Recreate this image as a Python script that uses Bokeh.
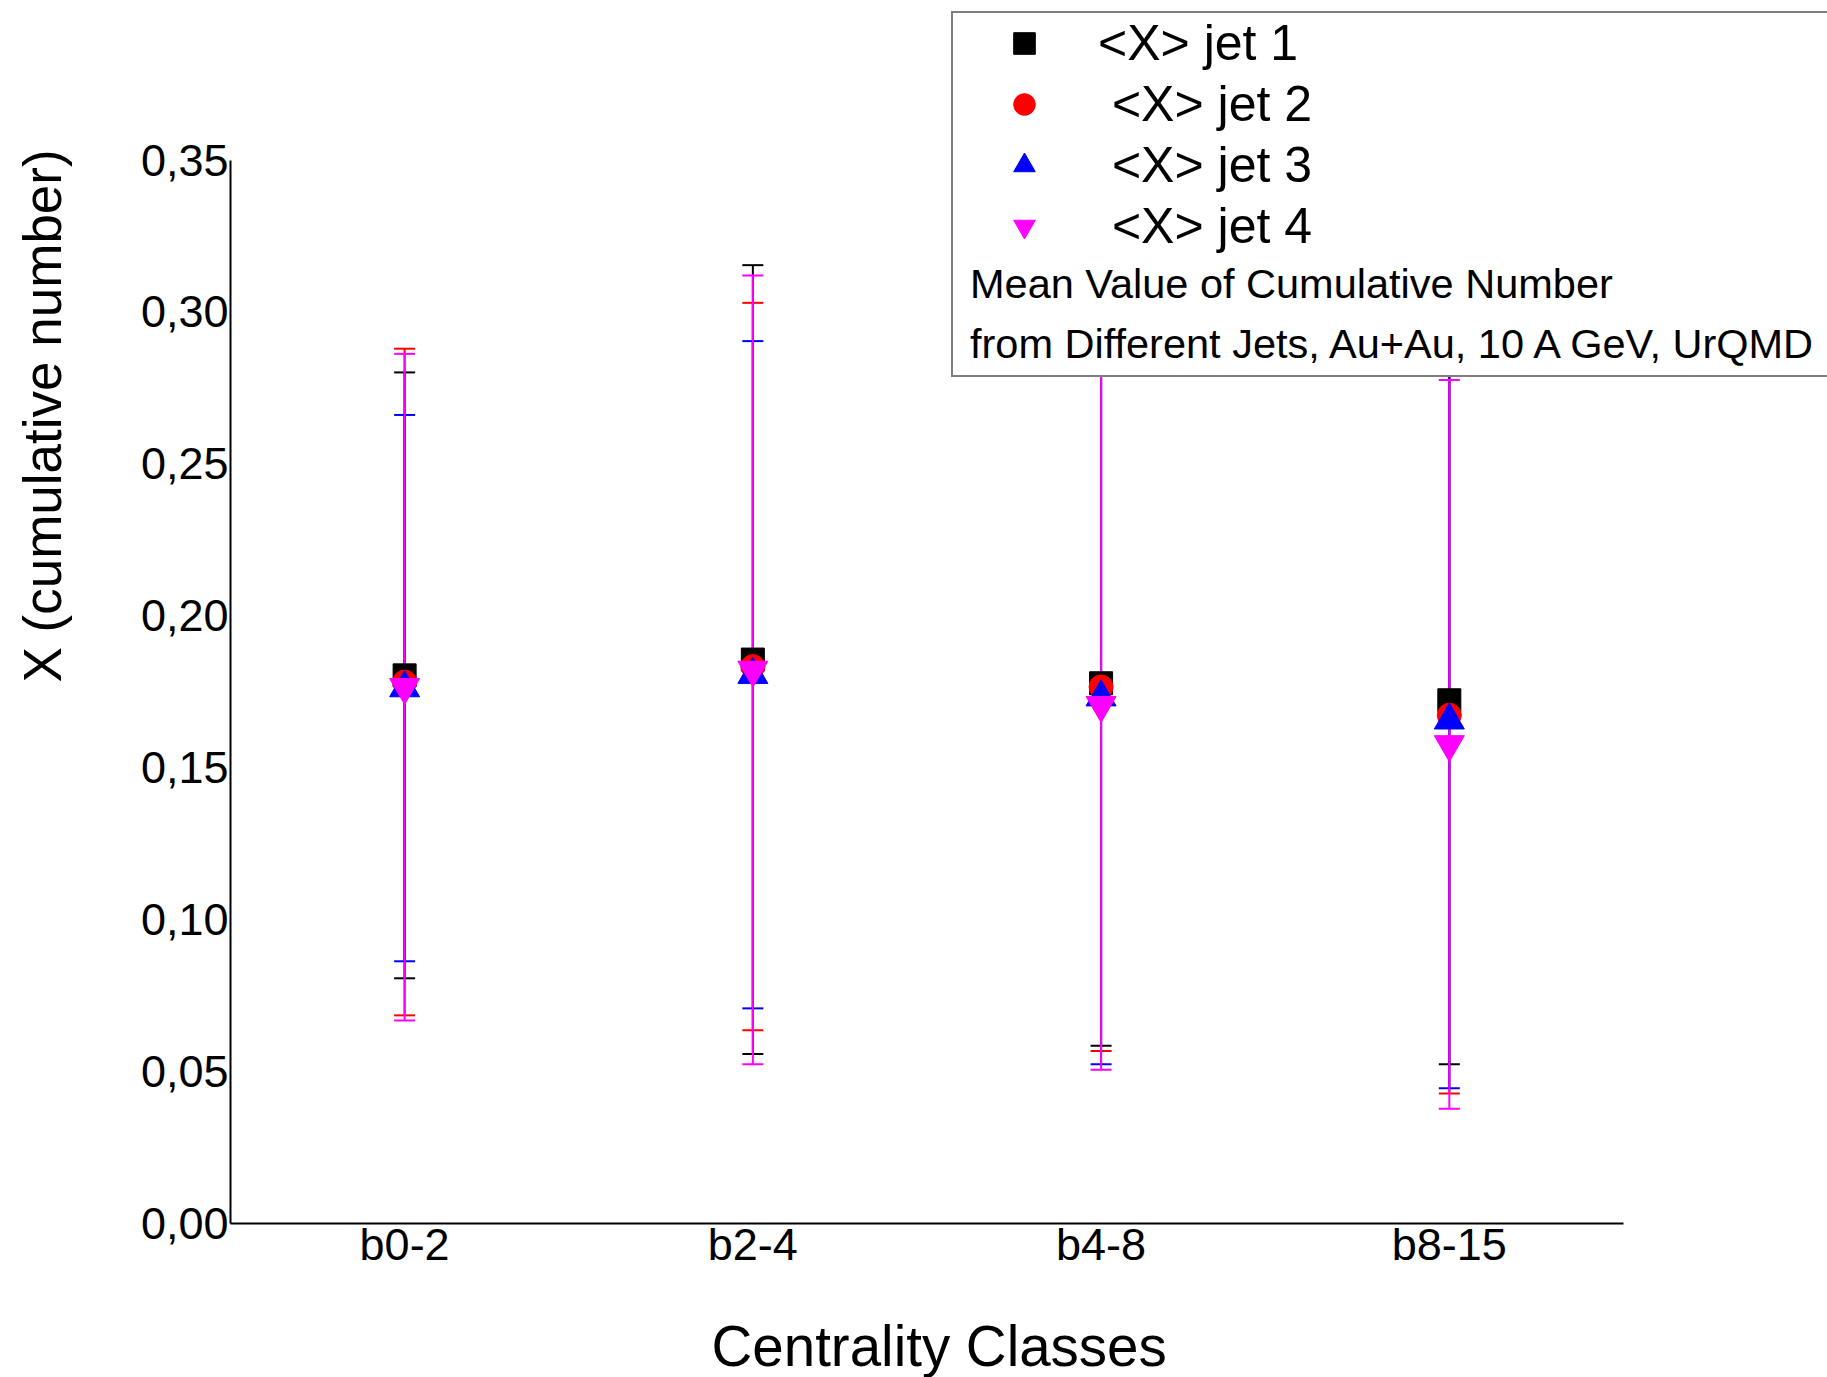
from bokeh.plotting import figure
from bokeh.models import (ColumnDataSource, Whisker, TeeHead, Legend, LegendItem,
                          FixedTicker, Range1d, Title)
from bokeh.embed import file_html
from bokeh.resources import INLINE

# ---- data -------------------------------------------------------------
categories = ["b0-2", "b2-4", "b4-8", "b8-15"]

jet1 = [0.1804, 0.1856, 0.1778, 0.1722]
jet1_err = [0.0997, 0.1298, 0.1193, 0.1198]
jet2 = [0.1782, 0.1833, 0.1766, 0.1673]
jet2_err = [0.1097, 0.1197, 0.1198, 0.1245]
jet3 = [0.1762, 0.1806, 0.1732, 0.1656]
jet3_err = [0.0899, 0.1098, 0.1208, 0.1211]
jet4 = [0.1765, 0.1822, 0.1706, 0.1577]
jet4_err = [0.1097, 0.1298, 0.1200, 0.1199]

y_ticks = [0.00, 0.05, 0.10, 0.15, 0.20, 0.25, 0.30, 0.35]
y_tick_labels = ["0,00", "0,05", "0,10", "0,15", "0,20", "0,25", "0,30", "0,35"]

series_labels = ["<X> jet 1", "\u00a0<X> jet 2", "\u00a0<X> jet 3", "\u00a0<X> jet 4"]
note_lines = ["Mean Value of Cumulative Number",
              "from Different Jets, Au+Au, 10 A GeV, UrQMD"]

x_title = "Centrality Classes"
y_title = "X (cumulative number)"

FONT = "Liberation Sans"

# ---- figure -----------------------------------------------------------
W, H = 1827, 1377
p = figure(width=W, height=H, output_backend="svg", toolbar_location=None,
           x_range=Range1d(0, 4.586), y_range=Range1d(0, 0.4025),
           min_border_left=230, min_border_right=0, min_border_top=0,
           min_border_bottom=154)
p.outline_line_color = None
p.grid.visible = False
p.background_fill_color = "white"
p.border_fill_color = "white"

xs = [i + 0.5 for i in range(len(categories))]

series = [
    (jet1, jet1_err, "square", 23, "#000000"),
    (jet2, jet2_err, "circle", 24, "#ff0000"),
    (jet3, jet3_err, "triangle", 30, "#0000ff"),
    (jet4, jet4_err, "inverted_triangle", 30, "#ff00ff"),
]

renderers = []
for vals, errs, marker, size, color in series:
    r = p.scatter(xs, vals, marker=marker, size=size, fill_color=color,
                  line_color=color, line_width=1)
    renderers.append(r)

for vals, errs, marker, size, color in series:
    src = ColumnDataSource(dict(
        x=xs,
        lower=[v - e for v, e in zip(vals, errs)],
        upper=[v + e for v, e in zip(vals, errs)],
    ))
    w = Whisker(source=src, base="x", lower="lower", upper="upper",
                line_color=color, line_width=2,
                upper_head=TeeHead(size=21, line_color=color, line_width=2),
                lower_head=TeeHead(size=21, line_color=color, line_width=2))
    p.add_layout(w)

# ---- axes -------------------------------------------------------------
xa = p.xaxis[0]
xa.ticker = FixedTicker(ticks=xs)
xa.major_label_overrides = {x: c for x, c in zip(xs, categories)}
xa.bounds = (0, 4)
xa.axis_line_width = 2
xa.major_tick_in = 0
xa.major_tick_out = 0
xa.minor_tick_line_color = None
xa.major_label_standoff = -5
xa.major_label_text_font = FONT
xa.major_label_text_font_size = "45px"
xa.major_label_text_color = "black"
# tiny spacer label so the title panel sits lower
xa.axis_label = "\u00a0"
xa.axis_label_text_font_size = "1px"
xa.axis_label_standoff = 36

ya = p.yaxis[0]
ya.ticker = FixedTicker(ticks=y_ticks)
ya.major_label_overrides = {t: s for t, s in zip(y_ticks, y_tick_labels)}
ya.bounds = (0, 0.35)
ya.axis_line_width = 2
ya.major_tick_in = 0
ya.major_tick_out = 0
ya.minor_tick_line_color = None
ya.major_label_standoff = 2
ya.major_label_text_font = FONT
ya.major_label_text_font_size = "45px"
ya.major_label_text_color = "black"
ya.axis_label = "\u00a0"
ya.axis_label_text_font_size = "1px"
ya.axis_label_standoff = 62

# axis titles as side-panel titles, offset to match the original placement
p.add_layout(Title(text=x_title, align="left", offset=481, standoff=0,
                   vertical_align="bottom",
                   text_font=FONT, text_font_size="56.5px", text_font_style="normal",
                   text_color="black"), "below")
p.add_layout(Title(text=y_title, align="left", offset=541, standoff=0,
                   vertical_align="bottom",
                   text_font=FONT, text_font_size="53px", text_font_style="normal",
                   text_color="black"), "left")

# ---- legend box with notes (background legend) -------------------------
dummy = p.scatter([], [], size=0, fill_alpha=0, line_alpha=0)
box_items = [LegendItem(label="\u00a0", renderers=[dummy]) for _ in series_labels]
box_items += [LegendItem(label=t, renderers=[dummy]) for t in note_lines]
legend_box = Legend(items=box_items, location=(721, 846), margin=0, padding=4,
                    glyph_width=1, glyph_height=54, label_height=54, spacing=6,
                    label_standoff=12, label_width=900,
                    label_text_font=FONT, label_text_font_size="41.5px",
                    label_text_color="black",
                    border_line_color="black", border_line_width=2,
                    background_fill_color="white", background_fill_alpha=1.0)
p.add_layout(legend_box)

# ---- series legend (on top) -----------------------------------------
items = [LegendItem(label=lab, renderers=[r]) for lab, r in zip(series_labels, renderers)]
legend = Legend(items=items, location=(722, 968), margin=0, padding=0,
                glyph_width=144, glyph_height=54, label_height=54, spacing=3,
                label_standoff=2,
                label_text_font=FONT, label_text_font_size="50px",
                label_text_color="black",
                border_line_color=None, background_fill_alpha=0.0)
p.add_layout(legend)

open("out.html", "w").write(file_html(p, INLINE))
